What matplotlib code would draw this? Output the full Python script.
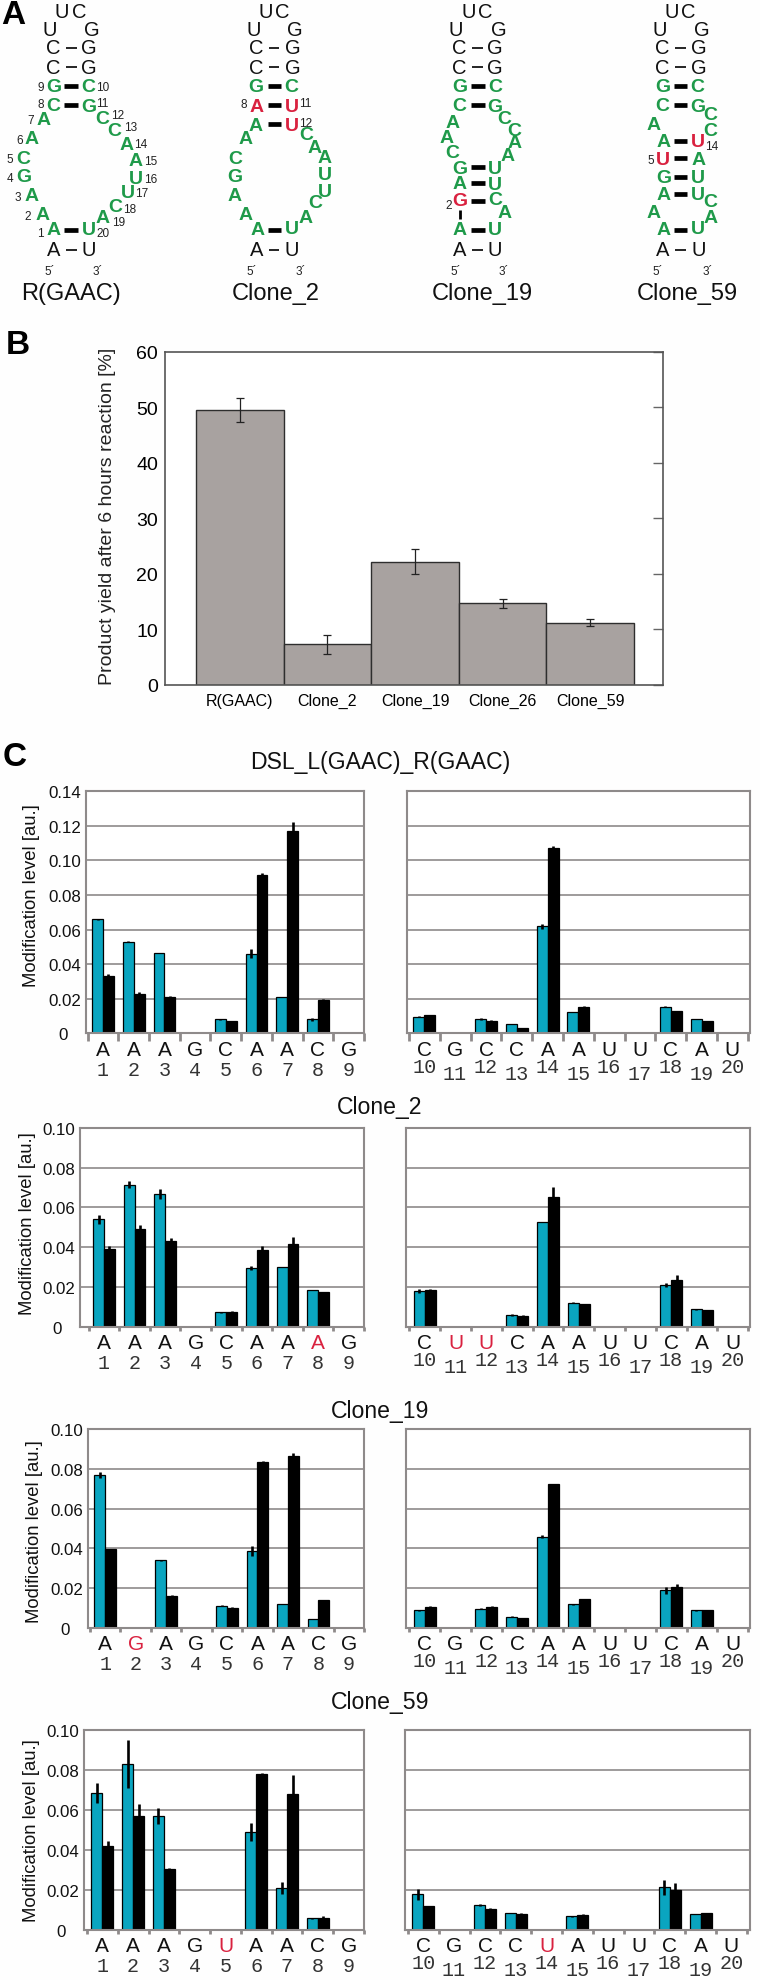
import numpy as np
import matplotlib
matplotlib.use('Agg')
import matplotlib.pyplot as plt
from matplotlib.transforms import blended_transform_factory

plt.rcParams['font.family'] = ['Liberation Sans', 'DejaVu Sans']

nan = np.nan
W, H = 760, 1981

# panel B
clones = ['R(GAAC)', 'Clone_2', 'Clone_19', 'Clone_26', 'Clone_59']
yields = [49.5, 7.3, 22.2, 14.7, 11.2]
yield_err = [2.1, 1.7, 2.3, 0.75, 0.6]

# panel C, left half is positions 1-9, right half is 10-20
pos_left = ['1', '2', '3', '4', '5', '6', '7', '8', '9']
pos_right = ['10', '11', '12', '13', '14', '15', '16', '17', '18', '19', '20']

titles = ['DSL_L(GAAC)_R(GAAC)', 'Clone_2', 'Clone_19', 'Clone_59']
ymaxes = [0.14, 0.10, 0.10, 0.10]

seq_left = ['AAAGCAACG', 'AAAGCAAAG', 'AGAGCAACG', 'AAAGUAACG']
seq_right = ['CGCCAAUUCAU', 'CUUCAAUUCAU', 'CGCCAAUUCAU', 'CGCCUAUUCAU']
red_left = [[], [7], [1], [4]]
red_right = [[], [1, 2], [], [4]]

blue_left = [
    [.066, .053, .0465, nan, .008, .046, .021, .008, nan],
    [.054, .0715, .067, nan, .0072, .0295, .030, .0185, nan],
    [.077, nan, .034, nan, .0113, .0385, .012, .0047, nan],
    [.0685, .083, .0567, nan, nan, .049, .021, .0058, nan],
]
black_left = [
    [.033, .023, .021, nan, .007, .0915, .117, .0195, nan],
    [.039, .049, .0432, nan, .0075, .0385, .0415, .0175, nan],
    [.0397, nan, .016, nan, .0102, .0835, .0865, .014, nan],
    [.042, .057, .0305, nan, nan, .0778, .068, .0058, nan],
]
blue_left_err = [
    [.0003, .0002, .0001, nan, .0004, .0025, 0, .0009, nan],
    [.0022, .0017, .0025, nan, .0003, .001, .0002, .0002, nan],
    [.0015, nan, .0002, nan, .0003, .0025, 0, 0, nan],
    [.005, .012, .004, nan, nan, .0045, .003, .0001, nan],
]
black_left_err = [
    [.0015, .001, .0008, nan, .0002, .001, .005, .0002, nan],
    [.0017, .0022, .0015, nan, .0005, .0022, .0035, .0002, nan],
    [.0002, nan, .0005, nan, .0002, .0002, .0012, .0002, nan],
    [.0025, .006, .0003, nan, nan, .0008, .0095, .0012, nan],
]
blue_right = [
    [.0097, nan, .0083, .0055, .0618, .0125, nan, nan, .0155, .0083, nan],
    [.018, nan, nan, .0058, .0527, .012, nan, nan, .021, .0087, nan],
    [.0088, nan, .0097, .0057, .0458, .012, nan, nan, .019, .0088, nan],
    [.0178, nan, .0127, .0085, nan, .0068, nan, nan, .0213, .008, nan],
]
black_right = [
    [.0103, nan, .0073, .003, .107, .0155, nan, nan, .0128, .0072, nan],
    [.0185, nan, nan, .0053, .0655, .0113, nan, nan, .0235, .0085, nan],
    [.0108, nan, .0107, .005, .0722, .0145, nan, nan, .0205, .0088, nan],
    [.012, nan, .0105, .0078, nan, .0075, nan, nan, .02, .0083, nan],
]
blue_right_err = [
    [.0002, nan, .0005, .0001, .0012, .0001, nan, nan, .0001, .0001, nan],
    [.0012, nan, nan, .0005, .0002, .0002, nan, nan, .0012, .0002, nan],
    [.0003, nan, .0002, .0002, .0008, .0002, nan, nan, .0018, .0003, nan],
    [.0027, nan, .0005, .0002, nan, .0004, nan, nan, .0037, 0, nan],
]
black_right_err = [
    [.0005, nan, .0006, .0001, .0015, .0001, nan, nan, .0001, .0001, nan],
    [.0005, nan, nan, .0005, .005, .0002, nan, nan, .0027, .0001, nan],
    [.0002, nan, .0002, .0001, .0003, .0002, nan, nan, .0018, .0002, nan],
    [.0002, nan, .0005, .0005, nan, .0004, nan, nan, .0037, .0003, nan],
]

# pixel layout of the panel C rows
rows_top = [792.3, 1129, 1430, 1730.7]
rows_bottom = [1034.3, 1327.7, 1629, 1931]
left_edge = [86, 80.3, 88.3, 83.7]
left_tick0 = [87.7, 88.7, 90, 87]
right_edge = [407.3, 406.3, 406.3, 405]
right_tick0 = [409, 409.3, 409.3, 408]
title_y = [763, 1108, 1412, 1703]
ylabel_x = [32, 28, 35, 32]
ylabel_y = [896, 1224, 1532, 1831]
tick_len = [3.0, 1.6, 1.6, 1.6]

green = '#1f9a4a'
red = '#d9213f'
cyan = '#0aa5c0'
gridgrey = '#8e8a8a'

fig = plt.figure(figsize=(W / 100, H / 100), dpi=100, facecolor='#fefefe')


def px_axes(x0, x1, top, bottom):
    return fig.add_axes([x0 / W, 1 - bottom / H, (x1 - x0) / W, (bottom - top) / H])


over = fig.add_axes([0, 0, 1, 1], zorder=5)
over.set_xlim(0, W)
over.set_ylim(H, 0)
over.axis('off')
over.patch.set_alpha(0)

# ---------- panel A: secondary structures, coordinates are in 3x zoom pixels


def hairpin(items, xoff=0):
    for c, x, y, kind in items:
        xx, yy = xoff + x / 3, y / 3
        if kind == 'k':
            over.text(xx, yy, c, color='#111111', fontsize=14.5, ha='center', va='center')
        elif kind == 'g':
            over.text(xx, yy, c, color=green, fontsize=14, weight='bold', ha='center', va='center')
        elif kind == 'r':
            over.text(xx, yy, c, color=red, fontsize=14, weight='bold', ha='center', va='center')
        elif kind == 'n':
            over.text(xx, yy, c, color='#222222', fontsize=8.5, ha='center', va='center')


def pairs(items, xoff=0):
    for x0, x1, y, lw in items:
        over.plot([xoff + x0 / 3, xoff + x1 / 3], [y / 3, y / 3], color='k', lw=lw, solid_capstyle='butt')


s1 = [('U', 185, 38, 'k'), ('C', 237, 38, 'k'), ('U', 150, 92, 'k'), ('G', 276, 92, 'k'),
      ('C', 160, 147, 'k'), ('G', 267, 147, 'k'), ('C', 160, 205, 'k'), ('G', 267, 205, 'k'),
      ('G', 160, 261, 'g'), ('C', 265, 261, 'g'), ('C', 160, 320, 'g'), ('G', 267, 322, 'g'),
      ('A', 130, 362, 'g'), ('C', 307, 358, 'g'), ('C', 343, 393, 'g'), ('A', 380, 435, 'g'),
      ('A', 408, 485, 'g'), ('U', 407, 538, 'g'), ('U', 383, 580, 'g'), ('C', 345, 622, 'g'),
      ('A', 309, 655, 'g'), ('U', 266, 692, 'g'), ('A', 162, 692, 'g'), ('A', 127, 645, 'g'),
      ('A', 95, 590, 'g'), ('G', 70, 533, 'g'), ('C', 70, 478, 'g'), ('A', 95, 420, 'g'),
      ('A', 160, 750, 'k'), ('U', 267, 750, 'k'),
      ("5´", 148, 815, 'n'), ("3´", 294, 815, 'n'),
      ('9', 122, 263, 'n'), ('10', 308, 265, 'n'), ('8', 122, 315, 'n'), ('11', 308, 313, 'n'),
      ('7', 92, 362, 'n'), ('12', 352, 347, 'n'), ('6', 58, 422, 'n'), ('13', 392, 385, 'n'),
      ('5', 30, 480, 'n'), ('14', 422, 435, 'n'), ('4', 30, 537, 'n'), ('15', 452, 485, 'n'),
      ('3', 53, 593, 'n'), ('16', 452, 540, 'n'), ('2', 83, 652, 'n'), ('17', 424, 582, 'n'),
      ('1', 122, 703, 'n'), ('18', 388, 630, 'n'), ('19', 357, 670, 'n'), ('20', 310, 703, 'n')]
p1 = [(197, 230, 147, 1.2), (197, 230, 203, 1.2), (192, 235, 261, 3.4), (192, 235, 317, 3.4),
      (192, 235, 692, 3.4), (197, 230, 752, 1.2)]

s2 = [('U', 797, 38, 'k'), ('C', 847, 38, 'k'), ('U', 760, 92, 'k'), ('G', 885, 92, 'k'),
      ('C', 768, 147, 'k'), ('G', 877, 147, 'k'), ('C', 768, 205, 'k'), ('G', 877, 205, 'k'),
      ('G', 768, 261, 'g'), ('C', 873, 261, 'g'), ('A', 770, 322, 'r'), ('U', 875, 322, 'r'),
      ('A', 768, 380, 'g'), ('U', 877, 380, 'r'), ('A', 737, 420, 'g'), ('C', 705, 478, 'g'),
      ('G', 705, 533, 'g'), ('A', 705, 590, 'g'), ('A', 737, 645, 'g'), ('A', 772, 692, 'g'),
      ('U', 875, 690, 'g'), ('A', 918, 655, 'g'), ('C', 945, 612, 'g'), ('U', 975, 578, 'g'),
      ('U', 975, 525, 'g'), ('A', 975, 475, 'g'), ('A', 945, 445, 'g'), ('C', 918, 408, 'g'),
      ('A', 770, 750, 'k'), ('U', 875, 750, 'k'),
      ("5´", 756, 815, 'n'), ("3´", 902, 815, 'n'),
      ('8', 732, 315, 'n'), ('11', 917, 313, 'n'), ('12', 917, 372, 'n')]
p2 = [(806, 838, 147, 1.2), (806, 838, 203, 1.2), (803, 842, 261, 3.4), (803, 842, 317, 3.4),
      (803, 842, 375, 3.4), (803, 842, 692, 3.4), (806, 838, 752, 1.2)]

s3 = [('U', 265, 38, 'k'), ('C', 315, 38, 'k'), ('U', 228, 92, 'k'), ('G', 355, 92, 'k'),
      ('C', 238, 147, 'k'), ('G', 345, 147, 'k'), ('C', 238, 205, 'k'), ('G', 345, 205, 'k'),
      ('G', 238, 261, 'g'), ('C', 345, 261, 'g'), ('C', 238, 320, 'g'), ('G', 345, 322, 'g'),
      ('A', 218, 370, 'g'), ('A', 200, 415, 'g'), ('C', 218, 460, 'g'), ('G', 240, 507, 'g'),
      ('A', 240, 553, 'g'), ('G', 240, 605, 'r'), ('A', 240, 692, 'g'), ('U', 345, 692, 'g'),
      ('A', 375, 642, 'g'), ('C', 345, 602, 'g'), ('U', 345, 555, 'g'), ('U', 345, 507, 'g'),
      ('A', 382, 470, 'g'), ('A', 403, 432, 'g'), ('C', 403, 395, 'g'), ('C', 373, 358, 'g'),
      ('A', 238, 750, 'k'), ('U', 345, 750, 'k'),
      ("5´", 227, 815, 'n'), ("3´", 372, 815, 'n'), ('2', 205, 618, 'n')]
p3 = [(276, 308, 147, 1.2), (276, 308, 203, 1.2), (272, 314, 261, 3.4), (272, 314, 317, 3.4),
      (272, 314, 503, 3.4), (272, 314, 553, 3.4), (272, 314, 605, 3.4), (272, 314, 692, 3.4),
      (276, 308, 752, 1.2)]

s4 = [('U', 875, 38, 'k'), ('C', 925, 38, 'k'), ('U', 838, 92, 'k'), ('G', 965, 92, 'k'),
      ('C', 848, 147, 'k'), ('G', 955, 147, 'k'), ('C', 848, 205, 'k'), ('G', 955, 205, 'k'),
      ('G', 848, 261, 'g'), ('C', 953, 261, 'g'), ('C', 848, 320, 'g'), ('G', 953, 322, 'g'),
      ('C', 992, 348, 'g'), ('C', 992, 395, 'g'), ('U', 953, 428, 'r'), ('A', 850, 428, 'g'),
      ('A', 822, 375, 'g'), ('U', 848, 482, 'r'), ('A', 957, 482, 'g'), ('G', 850, 535, 'g'),
      ('U', 955, 535, 'g'), ('A', 850, 587, 'g'), ('U', 955, 587, 'g'), ('C', 992, 607, 'g'),
      ('A', 992, 655, 'g'), ('A', 820, 640, 'g'), ('A', 850, 692, 'g'), ('U', 955, 690, 'g'),
      ('A', 848, 750, 'k'), ('U', 955, 750, 'k'),
      ("5´", 834, 815, 'n'), ("3´", 982, 815, 'n'), ('5', 812, 482, 'n'), ('14', 995, 442, 'n')]
p4 = [(885, 918, 147, 1.2), (885, 918, 203, 1.2), (882, 922, 261, 3.4), (882, 922, 317, 3.4),
      (882, 922, 425, 3.4), (882, 922, 478, 3.4), (882, 922, 533, 3.4), (882, 922, 585, 3.4),
      (882, 922, 692, 3.4), (885, 918, 752, 1.2)]

for s, p, off in [(s1, p1, 0), (s2, p2, 0), (s3, p3, 380), (s4, p4, 380)]:
    hairpin(s, off)
    pairs(p, off)
over.plot([380 + 241 / 3] * 2, [632 / 3, 660 / 3], color='k', lw=2, solid_capstyle='butt')

for name, x, y in [('R(GAAC)', 71, 294), ('Clone_2', 276, 294), ('Clone_19', 482, 294), ('Clone_59', 687, 294)]:
    over.text(x, y, name, fontsize=17, ha='center', va='center', color='#111111')

for lab, x, y in [('A', 13, 16), ('B', 18, 345), ('C', 15, 758)]:
    over.text(x, y, lab, fontsize=24, weight='bold', ha='center', va='center', color='k')

# ---------- panel B
axb = px_axes(165, 663, 352.7, 686)
xb = np.arange(len(clones))
axb.bar(xb, yields, width=1.0, color='#a8a2a0', edgecolor='#2e2e2e', linewidth=1.0)
axb.errorbar(xb, yields, yerr=yield_err, fmt='none', ecolor='#222222', elinewidth=0.9, capsize=3, capthick=0.9)
axb.set_xlim(-0.855, 4.83)
axb.set_ylim(0, 60)
axb.set_yticks(range(0, 70, 10))
axb.set_xticks(xb)
axb.set_xticklabels(clones, fontsize=11.5)
axb.tick_params(axis='x', length=0, pad=6)
axb.tick_params(axis='y', left=False, right=True, direction='in', length=7, width=1, color='#666666',
                labelsize=14, pad=5)
for sp in axb.spines.values():
    sp.set_color('#555555')
    sp.set_linewidth(1.2)
over.text(108, 516, 'Product yield after 6 hours reaction [%]', fontsize=14, rotation=90,
          ha='center', va='center', color='#222222')


# ---------- panel C
def mod_panel(ax, seq, red_idx, numbers, blue, black, blue_e, black_e, tick0, x0, x1, ymax, staggered, ticklen):
    n = len(seq)
    step = 30.8
    xs = np.arange(n) + 0.5
    w = 0.355
    ax.set_axisbelow(True)
    ax.yaxis.grid(True, color=gridgrey, lw=1.2)
    ax.bar(xs - w / 2, blue, w, color=cyan, edgecolor='k', linewidth=0.9)
    ax.bar(xs + w / 2, black, w, color='k', edgecolor='k', linewidth=0.9)
    ax.errorbar(xs - w / 2, blue, yerr=blue_e, fmt='none', ecolor='k', elinewidth=1.9)
    ax.errorbar(xs + w / 2, black, yerr=black_e, fmt='none', ecolor='k', elinewidth=1.9)
    ax.set_xlim((x0 - tick0) / step, (x1 - tick0) / step)
    ax.set_ylim(0, ymax)
    ax.set_xticks(xs)
    ax.set_xticklabels(list(seq), fontsize=15, color='#111111')
    ax.tick_params(axis='x', length=0, pad=4.5)
    for i in red_idx:
        ax.get_xticklabels()[i].set_color(red)
    ax.set_xticks(np.arange(n + 1), minor=True)
    ax.tick_params(axis='x', which='minor', length=ticklen * 2, width=2, color=gridgrey, direction='out')
    for sp in ax.spines.values():
        sp.set_color(gridgrey)
        sp.set_linewidth(1.5)
    tr = blended_transform_factory(ax.transData, ax.transAxes)
    for i, num in enumerate(numbers):
        dy = -36
        if staggered:
            dy = -33 if i % 2 == 0 else -40
        ax.annotate(num, xy=(xs[i], 0), xycoords=tr, xytext=(0, dy * 0.72), textcoords='offset points',
                    ha='center', va='center', fontsize=14.5, family='Liberation Mono', color='#333333',
                    annotation_clip=False)


for r in range(4):
    ymax = ymaxes[r]
    axl = px_axes(left_edge[r], 364, rows_top[r], rows_bottom[r])
    mod_panel(axl, seq_left[r], red_left[r], pos_left, blue_left[r], black_left[r],
              blue_left_err[r], black_left_err[r], left_tick0[r], left_edge[r], 364, ymax, False, tick_len[r])
    yt = np.arange(0, ymax + 0.001, 0.02)
    axl.set_yticks(yt)
    axl.set_yticklabels(['0'] + ['%.2f' % v for v in yt[1:]], fontsize=12.2, color='#111111')
    axl.tick_params(axis='y', length=0, pad=3.5)
    axl.yaxis.get_major_ticks()[0].set_pad(13)

    axr = px_axes(right_edge[r], 749.5, rows_top[r], rows_bottom[r])
    mod_panel(axr, seq_right[r], red_right[r], pos_right, blue_right[r], black_right[r],
              blue_right_err[r], black_right_err[r], right_tick0[r], right_edge[r], 749.5, ymax, True, tick_len[r])
    axr.set_yticks(yt)
    axr.set_yticklabels([])
    axr.tick_params(axis='y', length=0)

    over.text(380, title_y[r], titles[r], fontsize=16.6, ha='center', va='center', color='#111111')
    over.text(ylabel_x[r], ylabel_y[r], 'Modification level [au.]', fontsize=13.3, rotation=90,
              ha='center', va='center', color='#111111')

fig.savefig('out.png', dpi=100, facecolor=fig.get_facecolor())
